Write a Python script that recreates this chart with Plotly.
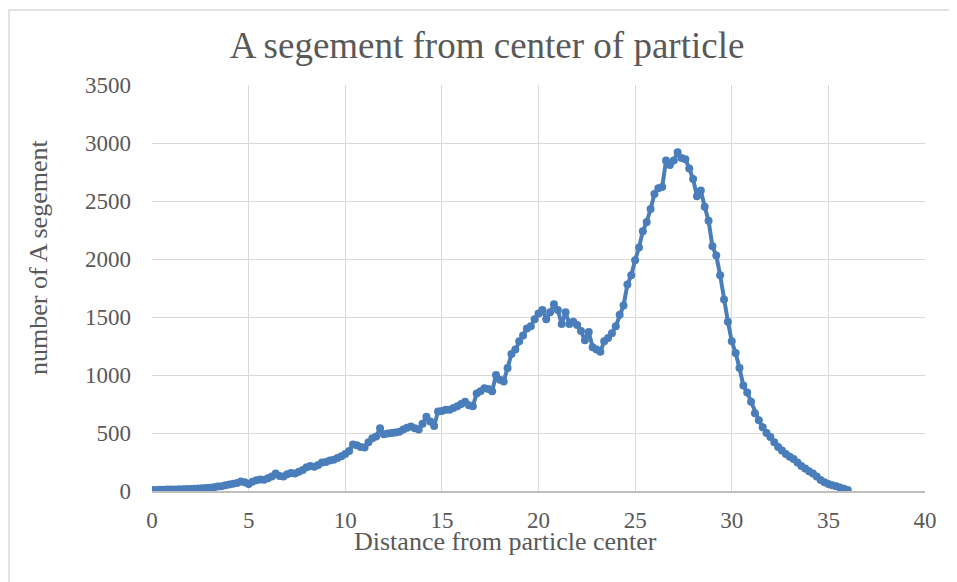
import plotly.graph_objects as go

distance = [
    0.0, 0.2, 0.4, 0.6, 0.8, 1.0, 1.2, 1.4, 1.6, 1.8,
    2.0, 2.2, 2.4, 2.6, 2.8, 3.0, 3.2, 3.4, 3.6, 3.8,
    4.0, 4.2, 4.4, 4.6, 4.8, 5.0, 5.2, 5.4, 5.6, 5.8,
    6.0, 6.2, 6.4, 6.6, 6.8, 7.0, 7.2, 7.4, 7.6, 7.8,
    8.0, 8.2, 8.4, 8.6, 8.8, 9.0, 9.2, 9.4, 9.6, 9.8,
    10.0, 10.2, 10.4, 10.6, 10.8, 11.0, 11.2, 11.4, 11.6, 11.8,
    12.0, 12.2, 12.4, 12.6, 12.8, 13.0, 13.2, 13.4, 13.6, 13.8,
    14.0, 14.2, 14.4, 14.6, 14.8, 15.0, 15.2, 15.4, 15.6, 15.8,
    16.0, 16.2, 16.4, 16.6, 16.8, 17.0, 17.2, 17.4, 17.6, 17.8,
    18.0, 18.2, 18.4, 18.6, 18.8, 19.0, 19.2, 19.4, 19.6, 19.8,
    20.0, 20.2, 20.4, 20.6, 20.8, 21.0, 21.2, 21.4, 21.6, 21.8,
    22.0, 22.2, 22.4, 22.6, 22.8, 23.0, 23.2, 23.4, 23.6, 23.8,
    24.0, 24.2, 24.4, 24.6, 24.8, 25.0, 25.2, 25.4, 25.6, 25.8,
    26.0, 26.2, 26.4, 26.6, 26.8, 27.0, 27.2, 27.4, 27.6, 27.8,
    28.0, 28.2, 28.4, 28.6, 28.8, 29.0, 29.2, 29.4, 29.6, 29.8,
    30.0, 30.2, 30.4, 30.6, 30.8, 31.0, 31.2, 31.4, 31.6, 31.8,
    32.0, 32.2, 32.4, 32.6, 32.8, 33.0, 33.2, 33.4, 33.6, 33.8,
    34.0, 34.2, 34.4, 34.6, 34.8, 35.0, 35.2, 35.4, 35.6, 35.8,
    36.0,
]

segments = [
    8, 9, 10, 10, 12, 12, 14, 15, 16, 18,
    18, 20, 22, 24, 26, 28, 32, 38, 42, 50,
    55, 62, 70, 82, 75, 60, 80, 92, 100, 98,
    110, 125, 150, 130, 125, 145, 155, 150, 165, 180,
    205, 215, 210, 225, 245, 250, 262, 270, 285, 300,
    320, 345, 400, 395, 380, 375, 420, 455, 470, 540,
    490, 495, 500, 505, 510, 530, 545, 555, 540, 530,
    580, 640, 600, 560, 685, 690, 700, 700, 715, 730,
    750, 770, 740, 730, 840, 860, 885, 880, 860, 1000,
    960, 945, 1060, 1180, 1220, 1290, 1340, 1400, 1420, 1480,
    1530, 1560, 1480, 1540, 1610, 1560, 1440, 1540, 1440, 1460,
    1430, 1380, 1300, 1370, 1240, 1220, 1200, 1290, 1320, 1360,
    1420, 1520, 1600, 1780, 1860, 1990, 2100, 2240, 2320, 2430,
    2560, 2610, 2620, 2850, 2810, 2850, 2920, 2870, 2860, 2780,
    2690, 2540, 2590, 2450, 2330, 2110, 2030, 1860, 1650, 1460,
    1290, 1190, 1060, 910, 850, 770, 670, 610, 550, 500,
    465, 420, 380, 350, 320, 295, 275, 245, 215, 195,
    170, 150, 125, 95, 75, 60, 50, 40, 30, 20,
    8,
]

x_ticks = [0, 5, 10, 15, 20, 25, 30, 35, 40]
y_ticks = [0, 500, 1000, 1500, 2000, 2500, 3000, 3500]

FONT = "Liberation Serif, Times New Roman, serif"
TXT = "#595959"
BLUE = "#4a7ebb"

fig = go.Figure()
fig.add_trace(go.Scatter(
    x=distance, y=segments, mode="lines+markers",
    line=dict(color=BLUE, width=4),
    marker=dict(color=BLUE, size=8),
    showlegend=False,
))

# page offset of the figure inside the browser window
OFF = 8
# target plot area in window pixels: x 152..925, y 85..491
W, H = 957, 582
L = 152 - OFF
T = 85 - OFF
R = W + OFF - 925
B = H + OFF - 491
pw, ph = W - L - R, H - T - B

def px_x(p):
    return (p - 152) / pw

def px_y(p):
    return (491 - p) / ph

fig.update_layout(
    width=W, height=H,
    margin=dict(l=L, r=R, t=T, b=B, pad=0),
    paper_bgcolor="white", plot_bgcolor="white",
    font=dict(family=FONT, color=TXT, size=23),
    title=dict(text="A segement from center of particle",
               x=px_x(487), xref="paper", xanchor="center",
               y=1 - (45 - OFF) / H, yref="container", yanchor="middle",
               font=dict(family=FONT, size=37, color=TXT)),
    xaxis=dict(range=[0, 40], tickvals=x_ticks, ticktext=[str(v) for v in x_ticks],
               showgrid=True, gridcolor="#d9d9d9", gridwidth=1,
               zeroline=False, showline=True, linecolor="#bfbfbf", linewidth=2,
               ticks="", ticklabelstandoff=7,
               tickfont=dict(family=FONT, size=23, color=TXT)),
    yaxis=dict(range=[0, 3500], tickvals=y_ticks, ticktext=[str(v) for v in y_ticks],
               showgrid=True, gridcolor="#d9d9d9", gridwidth=1,
               zeroline=False, showline=False,
               ticks="", ticklabelstandoff=20,
               tickfont=dict(family=FONT, size=23, color=TXT)),
    annotations=[
        dict(text="Distance from particle center", x=px_x(505), y=px_y(541),
             xref="paper", yref="paper", showarrow=False,
             xanchor="center", yanchor="middle",
             font=dict(family=FONT, size=26, color=TXT)),
        dict(text="number of A segement", x=px_x(38), y=px_y(258),
             xref="paper", yref="paper", showarrow=False, textangle=-90,
             xanchor="center", yanchor="middle",
             font=dict(family=FONT, size=26, color=TXT)),
    ],
    shapes=[
        dict(type="rect", xref="paper", yref="paper",
             x0=px_x(9), x1=px_x(1000), y0=px_y(640), y1=px_y(10),
             line=dict(color="#d9d9d9", width=1.5), fillcolor="rgba(0,0,0,0)",
             layer="below"),
    ],
)

fig.write_html("out.html")
